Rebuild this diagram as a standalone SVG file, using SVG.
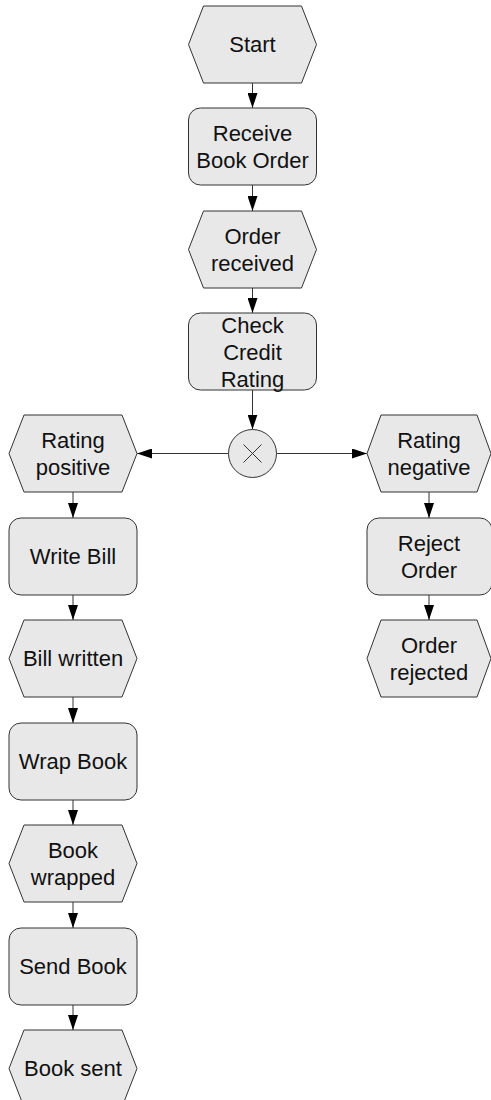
<svg xmlns="http://www.w3.org/2000/svg" width="491" height="1100" viewBox="0 0 491 1100">
<style>
.s{fill:#e8e8e8;stroke:#333;stroke-width:1}
.t{font-family:"Liberation Sans",Arial,sans-serif;font-size:22px;fill:#111;text-anchor:middle}
.c{fill:none;stroke:#333;stroke-width:1}
.x{stroke:#333;stroke-width:1}
</style>
<defs>
<marker id="a" markerUnits="userSpaceOnUse" markerWidth="15" markerHeight="10" refX="15" refY="5" orient="auto">
<path d="M0,0 L15,5 L0,10 Z" fill="#000"/>
</marker>
</defs>
<rect width="491" height="1100" fill="#fff"/>
<g id="connectors">
<path class="c" d="M252.5,83 V108" marker-end="url(#a)"/>
<path class="c" d="M252.5,185 V211" marker-end="url(#a)"/>
<path class="c" d="M252.5,288 V313" marker-end="url(#a)"/>
<path class="c" d="M252.5,390 V429.5" marker-end="url(#a)"/>
<path class="c" d="M228.5,453.5 H137" marker-end="url(#a)"/>
<path class="c" d="M276.5,453.5 H367" marker-end="url(#a)"/>
<path class="c" d="M73,492 V518" marker-end="url(#a)"/>
<path class="c" d="M73,595 V620" marker-end="url(#a)"/>
<path class="c" d="M73,697 V723" marker-end="url(#a)"/>
<path class="c" d="M73,800 V825" marker-end="url(#a)"/>
<path class="c" d="M73,902 V928" marker-end="url(#a)"/>
<path class="c" d="M73,1005 V1030" marker-end="url(#a)"/>
<path class="c" d="M429,492 V518" marker-end="url(#a)"/>
<path class="c" d="M429,595 V620" marker-end="url(#a)"/>
</g>
<g id="start">
<polygon class="s" points="188.5,44.5 203.5,6 301.5,6 316.5,44.5 301.5,83 203.5,83"/>
<text class="t" x="252.5" y="52.4">Start</text>
</g>
<g id="receive-book-order">
<rect class="s" x="188.5" y="108" width="128" height="77" rx="12"/>
<text class="t" x="252.5" y="140.9">Receive</text>
<text class="t" x="252.5" y="167.9">Book Order</text>
</g>
<g id="order-received">
<polygon class="s" points="188.5,249.5 203.5,211 301.5,211 316.5,249.5 301.5,288 203.5,288"/>
<text class="t" x="252.5" y="243.9">Order</text>
<text class="t" x="252.5" y="270.9">received</text>
</g>
<g id="check-credit-rating">
<rect class="s" x="188.5" y="313" width="128" height="77" rx="12"/>
<text class="t" x="252.5" y="332.6">Check</text>
<text class="t" x="252.5" y="359.6">Credit</text>
<text class="t" x="252.5" y="386.6">Rating</text>
</g>
<g id="xor">
<circle class="s" cx="252.5" cy="453.5" r="24"/>
<path class="x" d="M243.5,444.5 L261.5,462.5 M261.5,444.5 L243.5,462.5"/>
</g>
<g id="rating-positive">
<polygon class="s" points="9,453.5 24,415 122,415 137,453.5 122,492 24,492"/>
<text class="t" x="73" y="447.9">Rating</text>
<text class="t" x="73" y="474.9">positive</text>
</g>
<g id="write-bill">
<rect class="s" x="9" y="518" width="128" height="77" rx="12"/>
<text class="t" x="73" y="564.4">Write Bill</text>
</g>
<g id="bill-written">
<polygon class="s" points="9,658.5 24,620 122,620 137,658.5 122,697 24,697"/>
<text class="t" x="73" y="666.4">Bill written</text>
</g>
<g id="wrap-book">
<rect class="s" x="9" y="723" width="128" height="77" rx="12"/>
<text class="t" x="73" y="769.4">Wrap Book</text>
</g>
<g id="book-wrapped">
<polygon class="s" points="9,863.5 24,825 122,825 137,863.5 122,902 24,902"/>
<text class="t" x="73" y="857.9">Book</text>
<text class="t" x="73" y="884.9">wrapped</text>
</g>
<g id="send-book">
<rect class="s" x="9" y="928" width="128" height="77" rx="12"/>
<text class="t" x="73" y="974.4">Send Book</text>
</g>
<g id="book-sent">
<polygon class="s" points="9,1068.5 24,1030 122,1030 137,1068.5 122,1107 24,1107"/>
<text class="t" x="73" y="1076.4">Book sent</text>
</g>
<g id="rating-negative">
<polygon class="s" points="367,453.5 381,415 477,415 491,453.5 477,492 381,492"/>
<text class="t" x="429" y="447.9">Rating</text>
<text class="t" x="429" y="474.9">negative</text>
</g>
<g id="reject-order">
<rect class="s" x="367" y="518" width="125" height="77" rx="12"/>
<text class="t" x="429" y="550.9">Reject</text>
<text class="t" x="429" y="577.9">Order</text>
</g>
<g id="order-rejected">
<polygon class="s" points="367,658.5 381,620 477,620 491,658.5 477,697 381,697"/>
<text class="t" x="429" y="652.9">Order</text>
<text class="t" x="429" y="679.9">rejected</text>
</g>
</svg>
